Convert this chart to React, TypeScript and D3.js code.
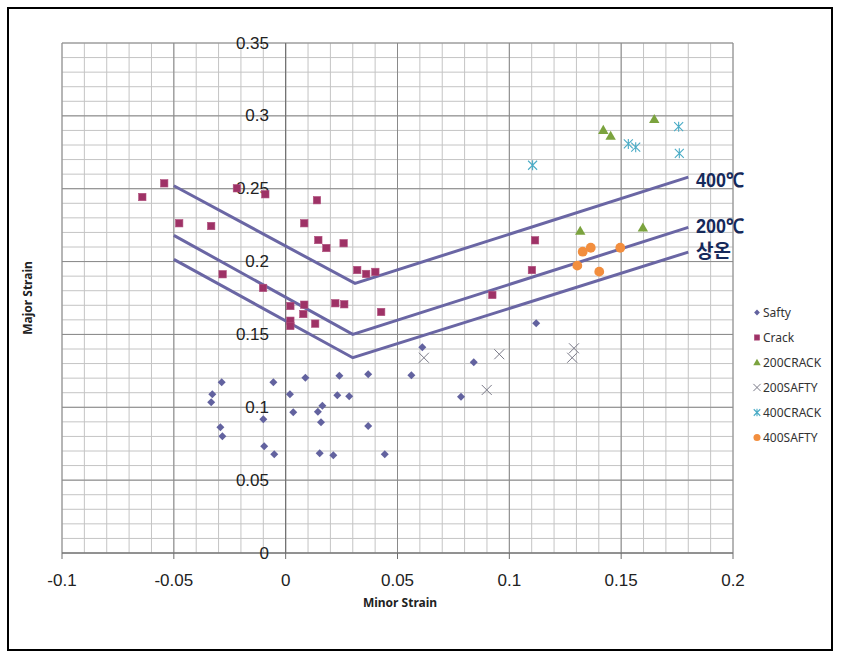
import React from 'react';
import * as d3 from 'd3';

const xTicks = [-0.1, -0.05, 0, 0.05, 0.1, 0.15, 0.2];
const yTicks = [0, 0.05, 0.1, 0.15, 0.2, 0.25, 0.3, 0.35];
const xTickLabels = ['-0.1', '-0.05', '0', '0.05', '0.1', '0.15', '0.2'];
const yTickLabels = ['0', '0.05', '0.1', '0.15', '0.2', '0.25', '0.3', '0.35'];

const safty: [number, number][] = [
  [-0.0286, 0.1172], [-0.0328, 0.1089], [-0.0333, 0.1034], [-0.0292, 0.0863], [-0.0283, 0.0801],
  [-0.0055, 0.1172], [-0.01, 0.0918], [-0.0096, 0.0732], [-0.0051, 0.0677], [0.0019, 0.1089],
  [0.0034, 0.0966], [0.0088, 0.1203], [0.0144, 0.097], [0.0164, 0.1011], [0.0158, 0.0897],
  [0.0152, 0.0684], [0.0213, 0.0671], [0.024, 0.1217], [0.0231, 0.1082], [0.0284, 0.1075],
  [0.0369, 0.1227], [0.0369, 0.0872], [0.0443, 0.0677], [0.0562, 0.122], [0.0611, 0.1412],
  [0.0841, 0.1309], [0.0784, 0.1073], [0.112, 0.1577],
];

const crack: [number, number][] = [
  [-0.0641, 0.2443], [-0.0543, 0.2537], [-0.0476, 0.2263], [-0.0333, 0.2244], [-0.0218, 0.2503],
  [-0.0091, 0.2462], [-0.0282, 0.1913], [-0.0101, 0.1819], [0.0083, 0.2263], [0.014, 0.2421],
  [0.0146, 0.2148], [0.0182, 0.2093], [0.0259, 0.2126], [0.032, 0.1942], [0.036, 0.1915],
  [0.0401, 0.1929], [0.0021, 0.1695], [0.0083, 0.1704], [0.0079, 0.164], [0.0021, 0.1594],
  [0.0021, 0.1558], [0.0132, 0.1574], [0.0222, 0.1714], [0.0262, 0.1707], [0.0427, 0.1654],
  [0.0924, 0.1771], [0.1101, 0.1942], [0.1115, 0.2146],
];

const crack200: [number, number][] = [
  [0.142, 0.2903], [0.1453, 0.2862], [0.1648, 0.2977], [0.1317, 0.221], [0.1597, 0.2233],
];

const safty200: [number, number][] = [
  [0.0618, 0.134], [0.0955, 0.1364], [0.0899, 0.1119], [0.1289, 0.1405], [0.1281, 0.134],
];

const crack400: [number, number][] = [
  [0.1104, 0.2661], [0.1532, 0.2807], [0.1565, 0.2785], [0.1757, 0.2926], [0.176, 0.2743],
];

const safty400: [number, number][] = [
  [0.1328, 0.2068], [0.1364, 0.2095], [0.1496, 0.2095], [0.1304, 0.1972], [0.1402, 0.1931],
];

const limit400: [number, number][] = [[-0.05, 0.252], [0.031, 0.185], [0.18, 0.258]];
const limit200: [number, number][] = [[-0.05, 0.218], [0.03, 0.15], [0.18, 0.2235]];
const limitRoom: [number, number][] = [[-0.05, 0.2015], [0.03, 0.134], [0.18, 0.2065]];

const limitLabels = ['400℃', '200℃', '상온'];
const legendNames = ['Safty', 'Crack', '200CRACK', '200SAFTY', '400CRACK', '400SAFTY'];

const C_SAFTY = '#62629f';
const C_CRACK = '#9e3266';
const C_GREEN = '#7ba33e';
const C_X = '#7a7a88';
const C_TEAL = '#4bacc6';
const C_ORANGE = '#f28e3e';
const C_LINE = '#6a66a4';
const C_LABEL = '#15295a';

type Kind = 'diamond' | 'square' | 'triangle' | 'x' | 'star' | 'circle';

function Marker({ kind, cx, cy, s = 1 }: { kind: Kind; cx: number; cy: number; s?: number }) {
  switch (kind) {
    case 'diamond': {
      const r = 4 * s;
      return <path d={`M${cx},${cy - r}L${cx + r},${cy}L${cx},${cy + r}L${cx - r},${cy}Z`} fill={C_SAFTY} />;
    }
    case 'square': {
      const r = 3.7 * s;
      return <rect x={cx - r} y={cy - r} width={2 * r} height={2 * r} fill={C_CRACK} stroke="#b0507e" strokeWidth={0.6} />;
    }
    case 'triangle': {
      const r = 5.2 * s;
      return <path d={`M${cx},${cy - r}L${cx + r},${cy + r * 0.75}L${cx - r},${cy + r * 0.75}Z`} fill={C_GREEN} />;
    }
    case 'x': {
      const r = 5 * s;
      return <path d={`M${cx - r},${cy - r}L${cx + r},${cy + r}M${cx - r},${cy + r}L${cx + r},${cy - r}`} stroke={C_X} strokeWidth={1} fill="none" />;
    }
    case 'star': {
      const r = 4.5 * s;
      return <path d={`M${cx - r},${cy - r}L${cx + r},${cy + r}M${cx - r},${cy + r}L${cx + r},${cy - r}M${cx},${cy - r - 0.5}L${cx},${cy + r + 0.5}`} stroke={C_TEAL} strokeWidth={1.1} fill="none" />;
    }
    case 'circle':
      return <circle cx={cx} cy={cy} r={4.9 * s} fill={C_ORANGE} />;
  }
}

export default function App() {
  const x = d3.scaleLinear().domain([-0.1, 0.2]).range([62, 733]);
  const y = d3.scaleLinear().domain([0, 0.35]).range([553, 43]);
  const line = d3.line<[number, number]>().x(d => x(d[0])).y(d => y(d[1]));

  const minorX = d3.range(0, 31).map(i => -0.1 + i * 0.01);
  const minorY = d3.range(0, 36).map(i => i * 0.01);

  const series: { data: [number, number][]; kind: Kind }[] = [
    { data: safty, kind: 'diamond' },
    { data: crack, kind: 'square' },
    { data: crack200, kind: 'triangle' },
    { data: safty200, kind: 'x' },
    { data: crack400, kind: 'star' },
    { data: safty400, kind: 'circle' },
  ];
  const legendKinds: Kind[] = ['diamond', 'square', 'triangle', 'x', 'star', 'circle'];
  const tickFont = '"Liberation Sans Narrow", "Liberation Sans", Arial, sans-serif';

  return (
    <div style={{ position: 'absolute', left: 0, top: 0 }}>
      <svg width={842} height={657} style={{ display: 'block', background: '#fff' }}>
        <rect x={0} y={0} width={842} height={657} fill="#fff" />
        <rect x={8} y={8} width={824} height={642} fill="none" stroke="#000" strokeWidth={2} />
        {minorX.map((v, i) => (
          <line key={'mx' + i} x1={x(v)} x2={x(v)} y1={y(0)} y2={y(0.35)} stroke="#c4c4c4" strokeWidth={1} />
        ))}
        {minorY.map((v, i) => (
          <line key={'my' + i} x1={x(-0.1)} x2={x(0.2)} y1={y(v)} y2={y(v)} stroke="#c4c4c4" strokeWidth={1} />
        ))}
        {xTicks.map((v, i) => (
          <line key={'Mx' + i} x1={x(v)} x2={x(v)} y1={y(0)} y2={y(0.35)} stroke="#8a8a8a" strokeWidth={1} />
        ))}
        {yTicks.map((v, i) => (
          <line key={'My' + i} x1={x(-0.1)} x2={x(0.2)} y1={y(v)} y2={y(v)} stroke="#8a8a8a" strokeWidth={1} />
        ))}
        <line x1={x(0)} x2={x(0)} y1={y(0)} y2={y(0.35)} stroke="#6e6e6e" strokeWidth={1} />
        <line x1={x(-0.1)} x2={x(0.2)} y1={y(0)} y2={y(0)} stroke="#6e6e6e" strokeWidth={1} />
        {xTicks.map((v, i) => (
          <line key={'xt' + i} x1={x(v)} x2={x(v)} y1={y(0)} y2={y(0) + 6} stroke="#6e6e6e" strokeWidth={1} />
        ))}
        {xTicks.map((v, i) => (
          <text key={'xl' + i} x={x(v)} y={580} textAnchor="middle" dominantBaseline="central" fontFamily={tickFont} fontSize={17} fill="#222">
            {xTickLabels[i]}
          </text>
        ))}
        {yTicks.map((v, i) => (
          <text key={'yl' + i} x={269} y={y(v)} textAnchor="end" dominantBaseline="central" fontFamily={tickFont} fontSize={17} fill="#222">
            {yTickLabels[i]}
          </text>
        ))}
        <text x={400} y={602} textAnchor="middle" dominantBaseline="central" fontFamily='"Noto Sans", "Open Sans", sans-serif' fontWeight="bold" fontSize={12} fill="#222">
          Minor Strain
        </text>
        <text transform="translate(27,298) rotate(-90)" textAnchor="middle" dominantBaseline="central" fontFamily='"Noto Sans", "Open Sans", sans-serif' fontWeight="bold" fontSize={12} fill="#222">
          Major Strain
        </text>
        {[limit400, limit200, limitRoom].map((d, i) => (
          <path key={'lim' + i} d={line(d) || ''} fill="none" stroke={C_LINE} strokeWidth={3} />
        ))}
        {series.map((s, si) =>
          s.data.map((d, i) => <Marker key={si + '-' + i} kind={s.kind} cx={x(d[0])} cy={y(d[1])} />)
        )}
        <text x={696} y={187} fontFamily={tickFont} fontWeight="bold" fontSize={20} fill={C_LABEL} textLength={48} lengthAdjust="spacingAndGlyphs">{limitLabels[0]}</text>
        <text x={696} y={233} fontFamily={tickFont} fontWeight="bold" fontSize={20} fill={C_LABEL} textLength={48} lengthAdjust="spacingAndGlyphs">{limitLabels[1]}</text>
        <text x={696} y={258} fontFamily='"Noto Sans CJK KR", sans-serif' fontWeight="bold" fontSize={19} fill={C_LABEL}>{limitLabels[2]}</text>
        {legendNames.map((n, i) => {
          const ly = 312.5 + i * 25;
          return (
            <g key={'lg' + i}>
              <Marker kind={legendKinds[i]} cx={757} cy={ly} s={0.72} />
              <text x={763} y={ly} dominantBaseline="central" fontFamily='"Noto Sans", "Open Sans", sans-serif' fontSize={12} fill="#333">
                {n}
              </text>
            </g>
          );
        })}
      </svg>
    </div>
  );
}
